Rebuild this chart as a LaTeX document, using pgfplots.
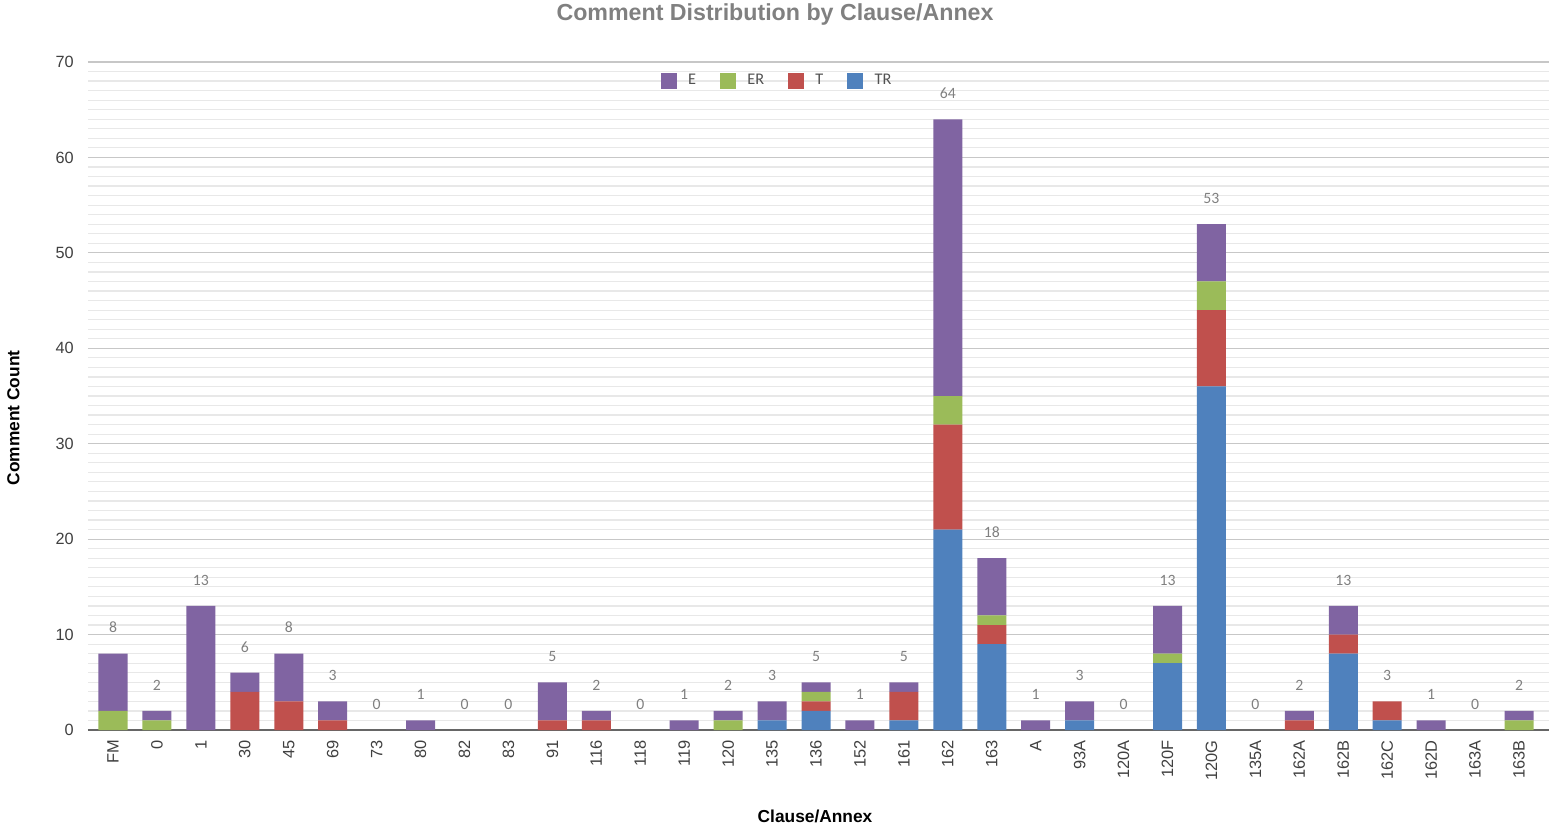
\documentclass[border=0pt]{standalone}
\usepackage{pgfplots}
\pgfplotsset{compat=1.18}
\usepackage{pgfplotstable}
\usepackage{fontspec}
\setmainfont{Liberation Sans}
\newfontfamily\calibri{Carlito}

\definecolor{cE}{HTML}{8064A2}
\definecolor{cER}{HTML}{9BBB59}
\definecolor{cT}{HTML}{C0504D}
\definecolor{cTR}{HTML}{4F81BD}
\definecolor{tickgray}{HTML}{404040}
\definecolor{labgray}{HTML}{808080}

\pgfplotsset{
  sqlegend/.style={legend image code/.code={%
    \fill[##1, draw=none] (0pt,-6pt) rectangle (12pt,6pt); \path (20.25pt,0pt);}},
  frame/.style={scale only axis, width=1095.75pt, height=501pt,
    xmin=-0.569, xmax=32.683, ymin=0, ymax=70, enlargelimits=false},
}

% x = category index, then the four series and the total shown above each bar
\pgfplotstableread{
x  TR T  ER E  tot
0  0  0  2  6  8
1  0  0  1  1  2
2  0  0  0  13 13
3  0  4  0  2  6
4  0  3  0  5  8
5  0  1  0  2  3
6  0  0  0  0  0
7  0  0  0  1  1
8  0  0  0  0  0
9  0  0  0  0  0
10 0  1  0  4  5
11 0  1  0  1  2
12 0  0  0  0  0
13 0  0  0  1  1
14 0  0  1  1  2
15 1  0  0  2  3
16 2  1  1  1  5
17 0  0  0  1  1
18 1  3  0  1  5
19 21 11 3  29 64
20 9  2  1  6  18
21 0  0  0  1  1
22 1  0  0  2  3
23 0  0  0  0  0
24 7  0  1  5  13
25 36 8  3  6  53
26 0  0  0  0  0
27 0  1  0  1  2
28 8  2  0  3  13
29 1  2  0  0  3
30 0  0  0  1  1
31 0  0  0  0  0
32 0  0  1  1  2
}\data

\begin{document}
\begin{tikzpicture}
\useasboundingbox (-66pt,-72pt) rectangle (1095.75pt,547.5pt);
\begin{axis}[
  frame,
  ybar stacked,
  bar width=21.75pt,
  /pgf/number format/assume math mode=true,
  xtick={0,...,32},
  xticklabels={FM,0,1,30,45,69,73,80,82,83,91,116,118,119,120,135,136,152,161,162,163,A,93A,120A,120F,120G,135A,162A,162B,162C,162D,163A,163B},
  ytick={0,10,...,70},
  minor ytick={1,...,69},
  ymajorgrids, yminorgrids,
  major grid style={draw=black!22, line width=0.9pt},
  minor grid style={draw=black!9, line width=0.9pt},
  major tick length=0pt, minor tick length=0pt,
  axis x line*=bottom, axis y line*=left,
  x axis line style={draw=black!60, line width=0.9pt},
  y axis line style={draw=none},
  xticklabel style={rotate=90, anchor=east, inner sep=0pt, font=\fontsize{12.3}{14}\selectfont, text=tickgray},
  xticklabel shift=7.5pt,
  yticklabel style={anchor=east, inner sep=0pt, font=\fontsize{12.2}{14}\selectfont, text=tickgray},
  yticklabel shift=10.5pt,
  legend columns=4,
  legend style={at={(0.471,0.972)}, anchor=center, draw=none, fill=none,
    font=\calibri\fontsize{12.2}{14}\selectfont, text=black!68,
    nodes={inner xsep=0pt},
    /tikz/every even column/.append style={column sep=18pt}},
]
\addlegendimage{sqlegend, fill=cE}\addlegendentry{E}
\addlegendimage{sqlegend, fill=cER}\addlegendentry{ER}
\addlegendimage{sqlegend, fill=cT}\addlegendentry{T}
\addlegendimage{sqlegend, fill=cTR}\addlegendentry{TR}

\addplot[fill=cTR, draw=none, forget plot] table[x=x, y=TR] {\data};
\addplot[fill=cT, draw=none, forget plot] table[x=x, y=T] {\data};
\addplot[fill=cER, draw=none, forget plot] table[x=x, y=ER] {\data};
\addplot[fill=cE, draw=none, forget plot] table[x=x, y=E] {\data};
\end{axis}
% same frame, not stacked: the totals above the bars
\begin{axis}[frame, hide axis, /pgf/number format/assume math mode=true]
\addplot[only marks, mark=text, text mark={},
  nodes near coords,
  every node near coord/.append style={anchor=base, inner sep=0pt, yshift=15.5pt,
    font=\calibri\fontsize{11.8}{13}\selectfont, text=labgray}]
  table[x=x, y=tot] {\data};
\end{axis}
\node[anchor=base, font=\bfseries\fontsize{17.4}{20}\selectfont, text=black!50] at (515.25pt,531.75pt) {Comment Distribution by Clause/Annex};
\node[rotate=90, anchor=center, font=\bfseries\fontsize{13}{15}\selectfont] at (-55.9pt,234pt) {Comment Count};
\node[anchor=base, font=\bfseries\fontsize{13}{15}\selectfont] at (545.25pt,-69pt) {Clause/Annex};
\end{tikzpicture}
\end{document}
